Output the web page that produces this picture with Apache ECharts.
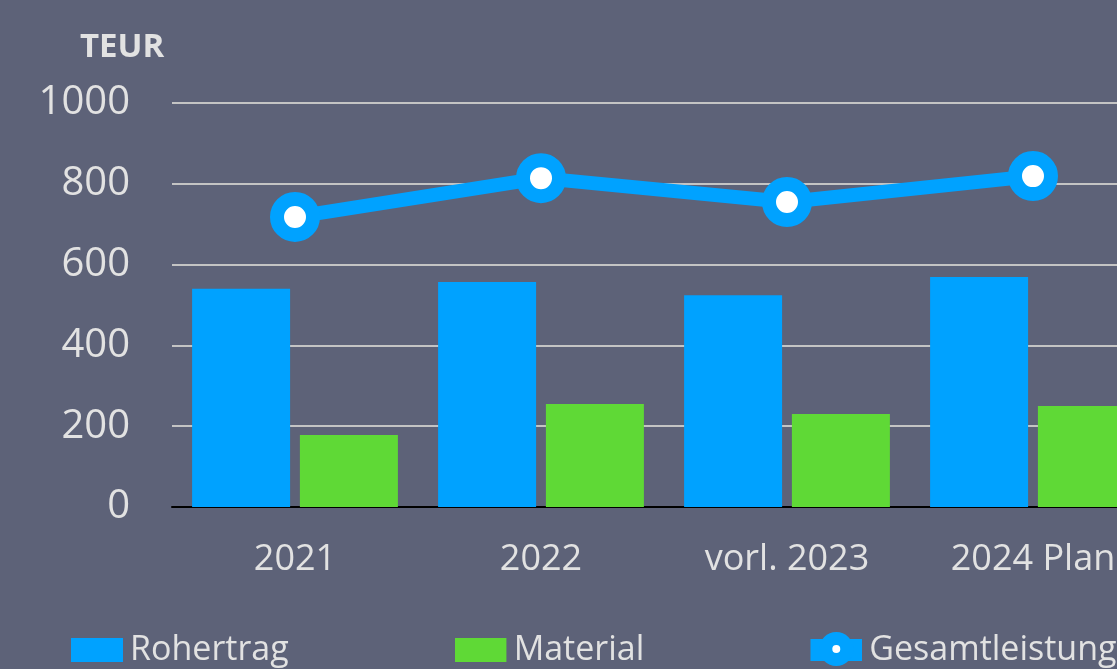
<!DOCTYPE html>
<html>
<head>
<meta charset="utf-8">
<script src="https://cdn.jsdelivr.net/npm/echarts@6/dist/echarts.min.js"></script>
<style>
  html, body { margin: 0; padding: 0; overflow: hidden; background: #5d6278; }
  #chart { width: 1200px; height: 669px; }
</style>
</head>
<body>
<div id="chart"></div>
<script>
  var categories = ['2021', '2022', 'vorl. 2023', '2024 Plan'];
  var rohertrag = [540, 557, 524, 569];
  var material = [178, 255, 230, 250];
  var gesamtleistung = [718, 814, 755, 819];
  var yTicks = [0, 200, 400, 600, 800, 1000];

  var font = 'Open Sans';
  var textColor = '#e2e2e2';
  var blue = '#00a2ff';
  var green = '#5fd936';

  // legend icons as small svg pictures (52x36 box)
  function svgIcon(body) {
    var svg = '<svg xmlns="http://www.w3.org/2000/svg" width="52" height="36" viewBox="0 0 52 36">' + body + '</svg>';
    return 'image://data:image/svg+xml;charset=utf-8,' + encodeURIComponent(svg);
  }
  var rectIcon = function (c) {
    return svgIcon('<rect x="0" y="6" width="52" height="24" fill="' + c + '"/>');
  };
  var lineIcon = svgIcon(
    '<rect x="0" y="7" width="52" height="22" fill="' + blue + '"/>' +
    '<circle cx="26" cy="17" r="17" fill="' + blue + '"/>' +
    '<circle cx="26" cy="17" r="4" fill="#ffffff"/>'
  );

  var myChart = echarts.init(document.getElementById('chart'));
  myChart.setOption({
    backgroundColor: '#5d6278',
    animation: false,
    title: {
      text: 'TEUR',
      left: 75,
      top: 26,
      textStyle: { color: textColor, fontFamily: font, fontWeight: 'bold', fontSize: 33 }
    },
    legend: {
      left: 71,
      top: 632,
      padding: 0,
      itemWidth: 52,
      itemHeight: 36,
      itemGap: 166,
      textStyle: { color: textColor, fontFamily: font, fontSize: 34, padding: [0, 0, 0, 2] },
      data: [
        { name: 'Rohertrag', icon: rectIcon(blue) },
        { name: 'Material', icon: rectIcon(green) },
        { name: 'Gesamtleistung', icon: lineIcon }
      ]
    },
    grid: { left: 172, right: 44, top: 103, bottom: 162, containLabel: false },
    xAxis: {
      type: 'category',
      data: categories,
      axisTick: { show: false },
      axisLine: { lineStyle: { color: '#000000', width: 2 } },
      axisLabel: { color: textColor, fontFamily: font, fontSize: 36, margin: 35 }
    },
    yAxis: {
      type: 'value',
      min: yTicks[0],
      max: yTicks[yTicks.length - 1],
      interval: 200,
      axisLine: { show: false },
      axisTick: { show: false },
      splitLine: { lineStyle: { color: '#c4c4c4', width: 2 } },
      axisLabel: {
        color: textColor, fontFamily: font, fontSize: 40, margin: 42,
        formatter: function (v) { return String(v); }
      }
    },
    series: [
      {
        name: 'Rohertrag',
        type: 'bar',
        barWidth: 98,
        barGap: '10%',
        itemStyle: { color: blue },
        data: rohertrag
      },
      {
        name: 'Material',
        type: 'bar',
        barWidth: 98,
        barGap: '10%',
        itemStyle: { color: green },
        data: material
      },
      {
        name: 'Gesamtleistung',
        type: 'line',
        symbol: 'circle',
        symbolSize: 36,
        lineStyle: { color: blue, width: 14 },
        itemStyle: { color: '#ffffff', borderColor: blue, borderWidth: 14 },
        data: gesamtleistung
      }
    ]
  });
</script>
</body>
</html>
